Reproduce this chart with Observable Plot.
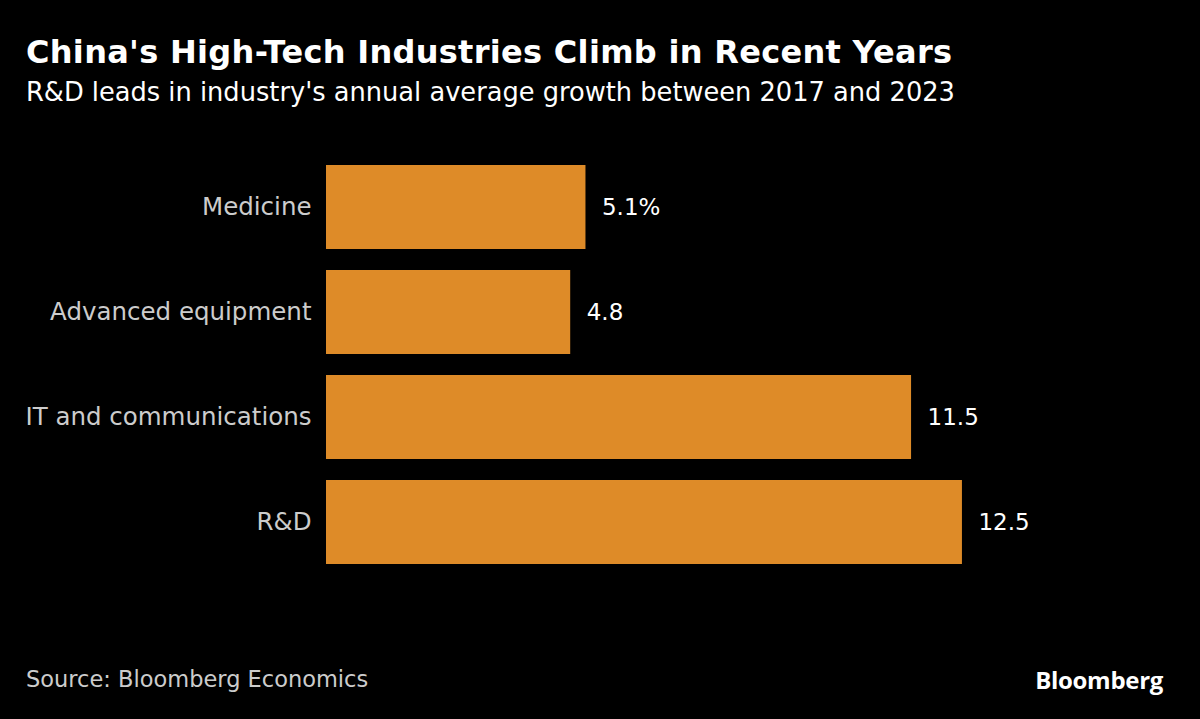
<!DOCTYPE html>
<html>
<head>
<meta charset="utf-8">
<script src="https://cdn.jsdelivr.net/npm/d3@7"></script>
<script src="https://cdn.jsdelivr.net/npm/@observablehq/plot@0.6"></script>
<style>
  html, body { margin: 0; padding: 0; background: #000; }
  body { width: 1200px; height: 719px; position: relative; overflow: hidden; font-family: "DejaVu Sans", sans-serif; }
  #title { position: absolute; left: 26px; top: 33px; color: #fff; font-weight: bold; font-size: 32px; letter-spacing: 0.3px; white-space: nowrap; }
  #subtitle { position: absolute; left: 26px; top: 77px; color: #fff; font-size: 25.7px; white-space: nowrap; }
  #chart { position: absolute; left: 0; top: 129px; }
  #source { position: absolute; left: 26px; top: 666px; color: #ccc; font-size: 22.5px; white-space: nowrap; }
  #brand { position: absolute; right: 37px; top: 663px; color: #fff; font-size: 24px; font-weight: bold; font-family: "Open Sans", sans-serif; letter-spacing: -0.3px; }
</style>
</head>
<body>
<div id="title">China's High-Tech Industries Climb in Recent Years</div>
<div id="subtitle">R&amp;D leads in industry's annual average growth between 2017 and 2023</div>
<div id="chart"></div>
<div id="source">Source: Bloomberg Economics</div>
<div id="brand">Bloomberg</div>
<script>
const industries = ["Medicine", "Advanced equipment", "IT and communications", "R&D"];
const growth = [5.1, 4.8, 11.5, 12.5];
const valueLabels = ["5.1%", "4.8", "11.5", "12.5"];

const data = industries.map((d, i) => ({industry: d, value: growth[i], label: valueLabels[i]}));

const chart = Plot.plot({
  width: 1200,
  height: 500,
  marginLeft: 326,
  marginRight: 60,
  marginTop: 13,
  marginBottom: 43,
  style: {background: "transparent", fontFamily: "DejaVu Sans, sans-serif"},
  x: {domain: [0, 16], axis: null},
  y: {domain: industries, padding: 0.2, label: null},
  marks: [
    Plot.barX(data, {x: "value", y: "industry", fill: "#de8b28"}),
    Plot.text(data, {x: "value", y: "industry", text: "label", textAnchor: "start", dx: 16, fill: "#fff", fontSize: 23}),
    Plot.axisY({tickSize: 0, tickPadding: 15, fontSize: 24.5, fill: "#ccc", label: null})
  ]
});
document.getElementById("chart").appendChild(chart);
</script>
</body>
</html>
